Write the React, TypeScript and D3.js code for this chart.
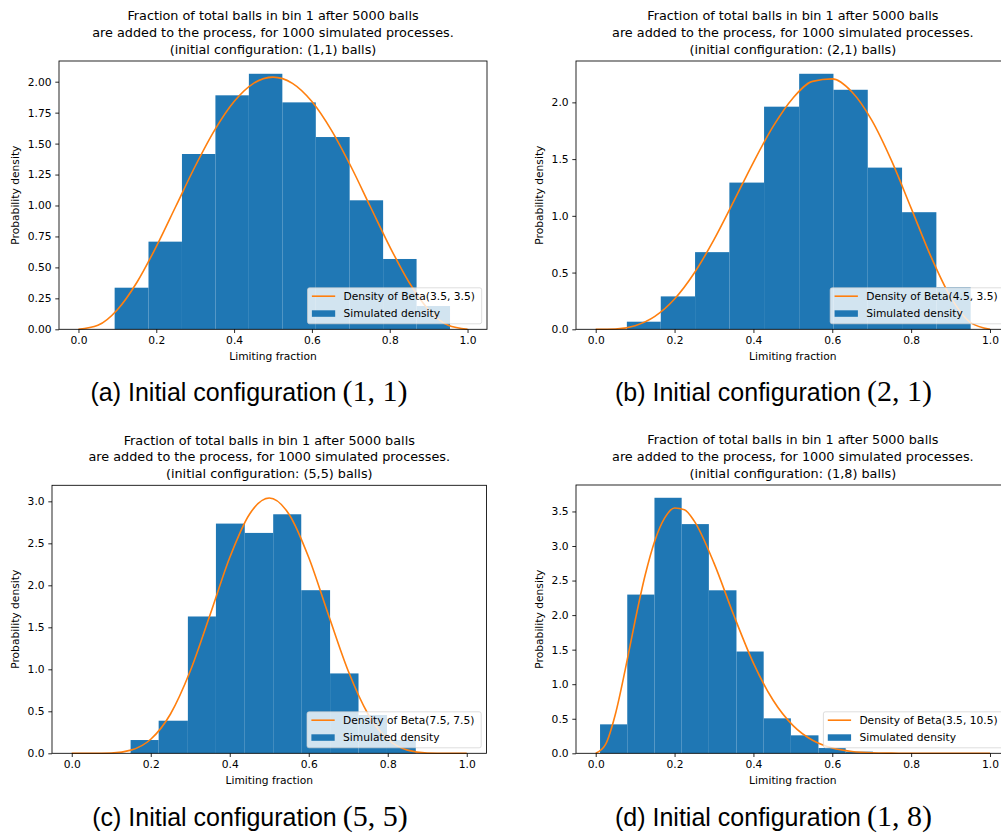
import React, { useEffect, useRef } from 'react';
import * as d3 from 'd3';

// shared ticks / grids
const xTicks = [0, 0.2, 0.4, 0.6, 0.8, 1.0];
const curveGrid = [0, 0.05, 0.1, 0.15, 0.2, 0.25, 0.3, 0.35, 0.4, 0.45, 0.5, 0.55, 0.6, 0.65, 0.7, 0.75, 0.8, 0.85, 0.9, 0.95, 1.0];
const curveGridD = [0, 0.025, 0.05, 0.075, 0.1, 0.125, 0.15, 0.175, 0.2, 0.225, 0.25, 0.3, 0.35, 0.4, 0.45, 0.5, 0.55, 0.6, 0.65, 0.7, 0.75, 0.8, 0.85, 0.9, 0.95, 1.0];

// (a) initial configuration (1,1)
const edgesA = [0.093, 0.18, 0.266, 0.352, 0.438, 0.524, 0.61, 0.697, 0.783, 0.869, 0.955];
const densityA = [0.336, 0.708, 1.416, 1.89, 2.064, 1.833, 1.553, 1.042, 0.568, 0.188];
const betaA = [0, 0.032, 0.158, 0.378, 0.668, 0.992, 1.317, 1.609, 1.84, 1.987, 2.037, 1.987, 1.84, 1.609, 1.317, 0.992, 0.668, 0.378, 0.158, 0.032, 0];
const yTicksA = [0, 0.25, 0.5, 0.75, 1.0, 1.25, 1.5, 1.75, 2.0];

// (b) initial configuration (2,1)
const edgesB = [0.079, 0.165, 0.252, 0.339, 0.427, 0.516, 0.603, 0.69, 0.777, 0.864, 0.951];
const densityB = [0.067, 0.29, 0.68, 1.293, 1.962, 2.252, 2.111, 1.425, 1.032, 0.37];
const betaB = [0, 0.003, 0.032, 0.114, 0.267, 0.496, 0.79, 1.127, 1.472, 1.788, 2.037, 2.185, 2.207, 2.092, 1.844, 1.489, 1.068, 0.643, 0.285, 0.061, 0];
const yTicksB = [0, 0.5, 1.0, 1.5, 2.0];

// (c) initial configuration (5,5)
const edgesC = [0.149, 0.22, 0.294, 0.365, 0.438, 0.51, 0.581, 0.654, 0.726, 0.798, 0.871];
const densityC = [0.158, 0.388, 1.629, 2.735, 2.624, 2.846, 1.942, 0.951, 0.456, 0.158];
const betaC = [0, 0.0001, 0.004, 0.038, 0.167, 0.468, 0.979, 1.646, 2.331, 2.847, 3.039, 2.847, 2.331, 1.646, 0.979, 0.468, 0.167, 0.038, 0.004, 0.0001, 0];
const yTicksC = [0, 0.5, 1.0, 1.5, 2.0, 2.5, 3.0];

// (d) initial configuration (1,8)
const edgesD = [0.011, 0.08, 0.149, 0.218, 0.287, 0.357, 0.426, 0.495, 0.565, 0.634, 0.703];
const densityD = [0.419, 2.297, 3.698, 3.317, 2.359, 1.473, 0.506, 0.26, 0.077, 0.024];
const betaD = [0, 0.128, 0.568, 1.214, 1.922, 2.569, 3.077, 3.406, 3.55, 3.525, 3.36, 2.752, 2.001, 1.306, 0.767, 0.404, 0.188, 0.076, 0.026, 0.007, 0.002, 0.0002, 0, 0, 0, 0];
const yTicksD = [0, 0.5, 1.0, 1.5, 2.0, 2.5, 3.0, 3.5];

const titleLine1 = 'Fraction of total balls in bin 1 after 5000 balls';
const titleLine2 = 'are added to the process, for 1000 simulated processes.';
const configs = ['(1,1)', '(2,1)', '(5,5)', '(1,8)'];
const betaLabels = ['Density of Beta(3.5, 3.5)', 'Density of Beta(4.5, 3.5)', 'Density of Beta(7.5, 7.5)', 'Density of Beta(3.5, 10.5)'];
const histLabel = 'Simulated density';
const captionTags = ['(a) Initial configuration', '(b) Initial configuration', '(c) Initial configuration', '(d) Initial configuration'];
const captionMath = ['(1, 1)', '(2, 1)', '(5, 5)', '(1, 8)'];

const W = 1001;
const H = 834;
const FONT = '"DejaVu Sans", sans-serif';
const BLUE = '#1f77b4';
const ORANGE = '#ff7f0e';

interface Panel {
  left: number; right: number; top: number; bottom: number;
  yLabelOffset: number; fmt: string;
  edges: number[]; heights: number[]; cx: number[]; cy: number[]; yTicks: number[];
  idx: number; capX: number; capY: number;
}

const panels: Panel[] = [
  { left: 59, right: 487, top: 61, bottom: 329.3, yLabelOffset: 43, fmt: '.2f', edges: edgesA, heights: densityA, cx: curveGrid, cy: betaA, yTicks: yTicksA, idx: 0, capX: 249, capY: 401 },
  { left: 576, right: 1009.7, top: 61, bottom: 329.3, yLabelOffset: 36, fmt: '.1f', edges: edgesB, heights: densityB, cx: curveGrid, cy: betaB, yTicks: yTicksB, idx: 1, capX: 773.5, capY: 401 },
  { left: 52, right: 486.5, top: 485.3, bottom: 753.3, yLabelOffset: 36.3, fmt: '.1f', edges: edgesC, heights: densityC, cx: curveGrid, cy: betaC, yTicks: yTicksC, idx: 2, capX: 250, capY: 826 },
  { left: 576, right: 1009.7, top: 485, bottom: 753.3, yLabelOffset: 36, fmt: '.1f', edges: edgesD, heights: densityD, cx: curveGridD, cy: betaD, yTicks: yTicksD, idx: 3, capX: 773.5, capY: 826 },
];

function drawPanel(svg: d3.Selection<SVGSVGElement, unknown, null, undefined>, p: Panel) {
  const g = svg.append('g');
  const x = d3.scaleLinear().domain([-0.05, 1.05]).range([p.left, p.right]);
  const yMax = 1.05 * Math.max(d3.max(p.heights) || 0, d3.max(p.cy) || 0);
  const y = d3.scaleLinear().domain([0, yMax]).range([p.bottom, p.top]);

  const bins = p.heights.map((h, i) => ({ x0: p.edges[i], x1: p.edges[i + 1], h }));
  g.append('g')
    .selectAll('rect')
    .data(bins)
    .join('rect')
    .attr('x', d => x(d.x0))
    .attr('width', d => x(d.x1) - x(d.x0))
    .attr('y', d => y(d.h))
    .attr('height', d => y(0) - y(d.h))
    .attr('fill', BLUE);

  const line = d3.line<number>()
    .x((_, i) => x(p.cx[i]))
    .y(d => y(d))
    .curve(d3.curveMonotoneX);
  g.append('path')
    .attr('d', line(p.cy) || '')
    .attr('fill', 'none')
    .attr('stroke', ORANGE)
    .attr('stroke-width', 1.6);

  // axes
  const xAxis = g.append('g')
    .attr('transform', `translate(0,${p.bottom})`)
    .call(d3.axisBottom(x).tickValues(xTicks).tickFormat(d3.format('.1f')).tickSize(3.7).tickPadding(3.9).tickSizeOuter(0));
  const yAxis = g.append('g')
    .attr('transform', `translate(${p.left},0)`)
    .call(d3.axisLeft(y).tickValues(p.yTicks).tickFormat(d3.format(p.fmt)).tickSize(3.7).tickPadding(3.7).tickSizeOuter(0));
  [xAxis, yAxis].forEach(a => {
    a.select('.domain').remove();
    a.attr('font-family', FONT).attr('font-size', 10.7);
    a.selectAll('line').attr('stroke', '#000').attr('stroke-width', 0.85);
    a.selectAll('text').attr('fill', '#000');
  });

  g.append('rect')
    .attr('x', p.left).attr('y', p.top)
    .attr('width', p.right - p.left).attr('height', p.bottom - p.top)
    .attr('fill', 'none').attr('stroke', '#000').attr('stroke-width', 0.85);

  const cxAxes = (p.left + p.right) / 2;
  const cyAxes = (p.top + p.bottom) / 2;

  g.append('text')
    .attr('x', cxAxes).attr('y', p.bottom + 30.2)
    .attr('text-anchor', 'middle')
    .attr('font-family', FONT).attr('font-size', 10.7)
    .text('Limiting fraction');

  g.append('text')
    .attr('transform', `translate(${p.left - p.yLabelOffset + 2.8},${cyAxes}) rotate(-90)`)
    .attr('text-anchor', 'middle')
    .attr('font-family', FONT).attr('font-size', 10.7)
    .text('Probability density');

  const titleLines = [titleLine1, titleLine2, `(initial configuration: ${configs[p.idx]} balls)`];
  g.append('g')
    .selectAll('text')
    .data(titleLines)
    .join('text')
    .attr('x', cxAxes)
    .attr('y', (_, i) => p.top - 7.2 - (2 - i) * 16.7)
    .attr('text-anchor', 'middle')
    .attr('font-family', FONT).attr('font-size', 12.8)
    .text(d => d);

  // legend
  const leg = g.append('g');
  const frame = leg.append('rect');
  const t1 = leg.append('text').attr('font-family', FONT).attr('font-size', 10.7).text(betaLabels[p.idx]);
  const t2 = leg.append('text').attr('font-family', FONT).attr('font-size', 10.7).text(histLabel);
  const tw = Math.max(
    (t1.node() as SVGTextElement).getComputedTextLength(),
    (t2.node() as SVGTextElement).getComputedTextLength()
  );
  const lw = 36 + tw + 6.7;
  const lh = 36;
  const lx = p.right - 5.3 - lw;
  const ly = p.bottom - 5.5 - lh;
  frame
    .attr('x', lx).attr('y', ly).attr('width', lw).attr('height', lh)
    .attr('rx', 2)
    .attr('fill', '#fff').attr('fill-opacity', 0.8)
    .attr('stroke', '#ccc').attr('stroke-opacity', 0.8).attr('stroke-width', 0.85);
  leg.append('line')
    .attr('x1', lx + 4.4).attr('x2', lx + 27.7)
    .attr('y1', ly + 8.4).attr('y2', ly + 8.4)
    .attr('stroke', ORANGE).attr('stroke-width', 1.6);
  leg.append('rect')
    .attr('x', lx + 4.4).attr('y', ly + 22.5)
    .attr('width', 23.3).attr('height', 6.5)
    .attr('fill', BLUE);
  t1.attr('x', lx + 36).attr('y', ly + 12.3);
  t2.attr('x', lx + 36).attr('y', ly + 28.9);
  t1.raise();
  t2.raise();

  // caption
  const cap = svg.append('text')
    .attr('x', p.capX).attr('y', p.capY)
    .attr('text-anchor', 'middle')
    .attr('fill', '#000');
  cap.append('tspan')
    .attr('font-family', '"Liberation Sans", Arial, sans-serif')
    .attr('font-size', 25)
    .text(captionTags[p.idx]);
  cap.append('tspan')
    .attr('dx', 6)
    .attr('font-family', '"Liberation Serif", serif')
    .attr('font-size', 30)
    .text(captionMath[p.idx]);
}

const App: React.FC = () => {
  const svgRef = useRef<SVGSVGElement>(null);

  useEffect(() => {
    if (!svgRef.current) return;
    const svg = d3.select(svgRef.current);
    svg.selectAll('*').remove();
    svg.append('rect').attr('width', W).attr('height', H).attr('fill', '#fff');
    panels.forEach(p => drawPanel(svg, p));
  }, []);

  return (
    <svg
      ref={svgRef}
      width={W}
      height={H}
      style={{ position: 'absolute', left: 0, top: 0, display: 'block', overflow: 'hidden' }}
    />
  );
};

export default App;
